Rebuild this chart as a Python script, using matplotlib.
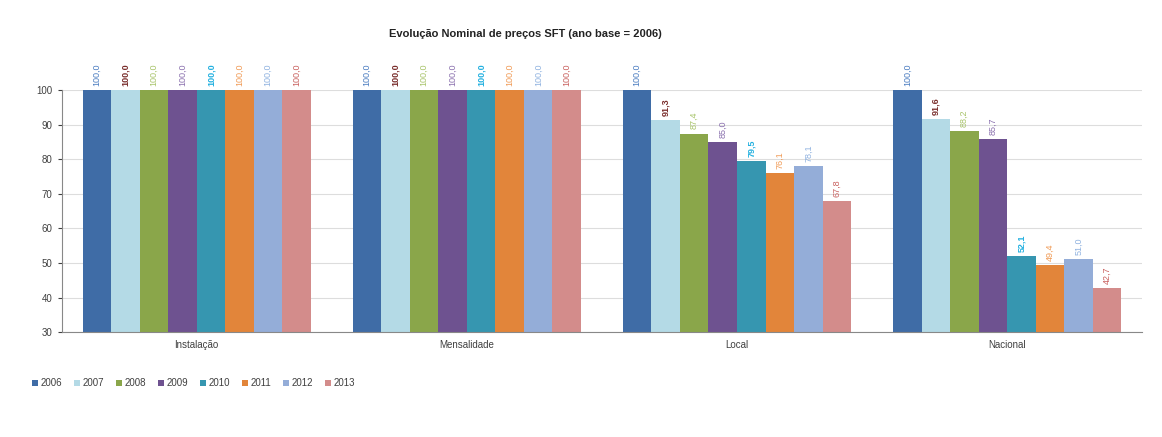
import matplotlib.pyplot as plt
import numpy as np

categories = ["Instalação", "Mensalidade", "Local", "Nacional"]
years = ["2006", "2007", "2008", "2009", "2010", "2011", "2012", "2013"]

# index values per year, one entry per category
v2006 = [100.0, 100.0, 100.0, 100.0]
v2007 = [100.0, 100.0, 91.3, 91.6]
v2008 = [100.0, 100.0, 87.4, 88.2]
v2009 = [100.0, 100.0, 85.0, 85.7]
v2010 = [100.0, 100.0, 79.5, 52.1]
v2011 = [100.0, 100.0, 76.1, 49.4]
v2012 = [100.0, 100.0, 78.1, 51.0]
v2013 = [100.0, 100.0, 67.8, 42.7]
series = [v2006, v2007, v2008, v2009, v2010, v2011, v2012, v2013]

bar_colors = ["#3F6CA6", "#B4DAE6", "#8AA64A", "#6E5290", "#3696B0", "#E2853A", "#94ADD8", "#D38C8B"]
label_colors = ["#4A7CC0", "#7A2E2C", "#A8C46A", "#8A70AE", "#22B0E0", "#F09A55", "#8FB2E0", "#C9605E"]

plt.rcParams['font.family'] = ['Liberation Sans', 'DejaVu Sans']

fig = plt.figure(figsize=(11.62, 4.37), dpi=100)
ax = fig.add_axes([0.0530, 0.240, 0.930, 0.554])

x = np.arange(len(categories))
group_w = 0.845
w = group_w / len(years)

for i, (yr, vals) in enumerate(zip(years, series)):
    pos = x - group_w / 2 + w * (i + 0.5)
    ax.bar(pos, vals, width=w, color=bar_colors[i], label=yr, zorder=2)
    for p, v in zip(pos, vals):
        txt = f"{v:.1f}".replace(".", ",")
        ax.text(p, v + 1.2, txt, rotation=90, ha="center", va="bottom",
                fontsize=6.5, color=label_colors[i], clip_on=False,
                fontweight="bold" if i in (1, 4) else "normal")

ax.set_xlim(-0.5, len(categories) - 0.5)
ax.set_ylim(30, 100)
ax.set_yticks(range(30, 101, 10))
ax.set_xticks(x)
ax.set_xticklabels(categories)
ax.tick_params(axis="x", length=0, labelsize=7, colors="#404040", pad=6)
ax.tick_params(axis="y", length=3, labelsize=7, colors="#404040", direction="out")
ax.grid(axis="y", color="#DDDDDD", linewidth=0.8, zorder=0)

for s in ["top", "right"]:
    ax.spines[s].set_visible(False)
ax.spines["left"].set_color("#888888")
ax.spines["bottom"].set_color("#888888")

fig.text(0.452, 0.922, "Evolução Nominal de preços SFT (ano base = 2006)",
         ha="center", va="center", fontsize=8, fontweight="bold", color="#222222")

fig.legend(loc="upper left", bbox_to_anchor=(0.02, 0.155), ncol=8, frameon=False,
           fontsize=7, handlelength=0.6, handleheight=0.6, handletextpad=0.3,
           columnspacing=1.2, labelcolor="#404040")

fig.savefig("out.png", dpi=100)
